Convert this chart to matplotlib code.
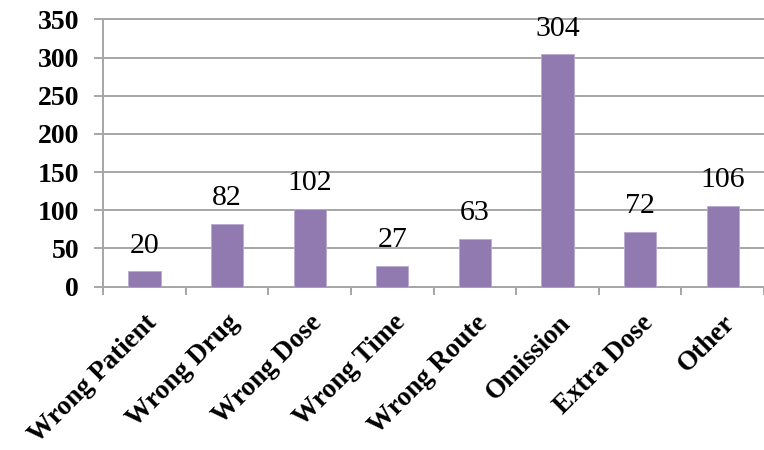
import matplotlib
matplotlib.use("Agg")
import matplotlib.pyplot as plt
import matplotlib.transforms as mtransforms
import numpy as np

categories = ["Wrong Patient", "Wrong Drug", "Wrong Dose", "Wrong Time",
              "Wrong Route", "Omission", "Extra Dose", "Other"]
counts = [20, 82, 102, 27, 63, 304, 72, 106]
yticks = [0, 50, 100, 150, 200, 250, 300, 350]

plt.rcParams["font.family"] = ["Liberation Serif", "DejaVu Serif"]

grey = "#A6A6A6"
purple = "#907AB0"

fig = plt.figure(figsize=(7.64, 4.5), dpi=100)
ax = fig.add_axes([0.1352, 0.3629, 0.8648, 0.5942])

x = np.arange(len(categories))
bars = ax.bar(x, counts, width=0.39, color=purple, edgecolor="#B9ABD0",
              linewidth=0.6, zorder=3)

for xi, v in zip(x, counts):
    ax.annotate(str(v), (xi, v), xytext=(0, 13.5), textcoords="offset points",
                ha="center", va="baseline", fontsize=21.5)

ax.set_xlim(-0.5, 7.43)
ax.set_ylim(0, 350)
ax.set_yticks(yticks)
ax.set_yticklabels([str(t) for t in yticks], fontsize=20, fontweight="bold",
                   va="center_baseline")
ax.yaxis.grid(True, color=grey, linewidth=1.4, zorder=0)
for gl in ax.get_ygridlines():
    gl.set_clip_on(False)
ax.tick_params(axis="y", length=6.5, width=1.4, color=grey, pad=11)

# category labels at band centres, tick marks at band boundaries
ax.set_xticks(x)
ax.set_xticklabels(categories, fontsize=19.5, fontweight="bold",
                   rotation=45, ha="right", va="top", rotation_mode="anchor")
shift = mtransforms.ScaledTranslation(-2 / 72, 0, fig.dpi_scale_trans)
for lbl in ax.get_xticklabels():
    lbl.set_transform(lbl.get_transform() + shift)
ax.set_xticks(np.arange(-0.5, 8, 1.0), minor=True)
ax.tick_params(axis="x", which="major", length=0, pad=17)
ax.tick_params(axis="x", which="minor", length=6, width=1.4, color=grey)

for side in ("top", "right"):
    ax.spines[side].set_visible(False)
for side in ("left", "bottom"):
    ax.spines[side].set_color(grey)
    ax.spines[side].set_linewidth(1.4)
ax.set_axisbelow(True)

fig.savefig("out.png", dpi=100)
